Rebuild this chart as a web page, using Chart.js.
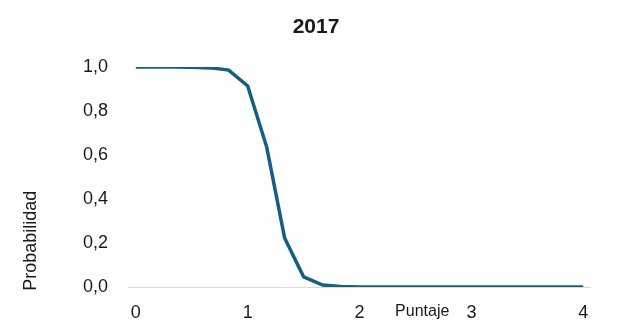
<!DOCTYPE html>
<html lang="es">
<head>
    <meta charset="UTF-8">
    <title>2017</title>
    <script src="https://cdn.jsdelivr.net/npm/chart.js"></script>
    <style>
        body {
            margin: 0;
            padding: 0;
            background: #ffffff;
        }
        .chart-box {
            width: 632px;
            height: 328px;
        }
    </style>
</head>
<body>
    <div class="chart-box">
        <canvas id="curva"></canvas>
    </div>
    <script>
        // datos
        const chartTitle = '2017';
        const xTitle = 'Puntaje';
        const yTitle = 'Probabilidad';
        const puntaje = [0, 0.17, 0.33, 0.5, 0.67, 0.83, 1, 1.17, 1.33, 1.5, 1.67, 1.83, 2,
            2.17, 2.33, 2.5, 2.67, 2.83, 3, 3.17, 3.33, 3.5, 3.67, 3.83, 4];
        const probabilidad = [1, 1, 1, 0.999, 0.996, 0.986, 0.914, 0.636, 0.223, 0.046, 0.009, 0.002, 0.0005,
            0, 0, 0, 0, 0, 0, 0, 0, 0, 0, 0, 0];
        const xTicks = [0, 1, 2, 3, 4];

        const fontFamily = "'Liberation Sans', Arial, sans-serif";
        const textColor = '#1a1a1a';

        // titulo y titulos de ejes en la misma posicion que el original
        const chartTexts = {
            id: 'chartTexts',
            afterDraw(chart) {
                const ctx = chart.ctx;
                const xs = chart.scales.x;
                const ys = chart.scales.y;
                ctx.save();
                ctx.fillStyle = textColor;
                ctx.textAlign = 'center';
                ctx.textBaseline = 'middle';
                ctx.font = 'bold 21px ' + fontFamily;
                ctx.fillText(chartTitle, 316, 27);
                ctx.font = '16px ' + fontFamily;
                ctx.fillText(xTitle, xs.getPixelForValue(2.56), 312);
                ctx.font = '18px ' + fontFamily;
                ctx.translate(31, ys.getPixelForValue(0.21));
                ctx.rotate(-Math.PI / 2);
                ctx.fillText(yTitle, 0, 0);
                ctx.restore();
            }
        };

        new Chart(document.getElementById('curva'), {
            type: 'line',
            data: {
                datasets: [{
                    data: puntaje.map((p, i) => ({ x: p, y: probabilidad[i] })),
                    borderColor: '#156082',
                    borderWidth: 3.5,
                    pointRadius: 0,
                    tension: 0,
                    fill: false
                }]
            },
            options: {
                responsive: true,
                maintainAspectRatio: false,
                animation: false,
                layout: {
                    padding: { left: 0, right: 42, top: 67, bottom: 0 }
                },
                plugins: {
                    legend: { display: false },
                    tooltip: { enabled: false },
                    title: { display: false }
                },
                scales: {
                    x: {
                        type: 'linear',
                        min: -0.07,
                        max: 4.06,
                        afterBuildTicks: (scale) => {
                            scale.ticks = xTicks.map(v => ({ value: v }));
                        },
                        afterFit: (scale) => { scale.height = 41; },
                        grid: { display: false, drawTicks: false },
                        border: { display: true, color: '#d9d9d9', width: 1 },
                        ticks: {
                            color: textColor,
                            padding: 15,
                            font: { family: fontFamily, size: 18 },
                            callback: (v) => String(v)
                        }
                    },
                    y: {
                        min: 0,
                        max: 1,
                        afterFit: (scale) => { scale.width = 128; },
                        grid: { display: false, drawTicks: false },
                        border: { display: false },
                        ticks: {
                            stepSize: 0.2,
                            color: textColor,
                            padding: 20,
                            font: { family: fontFamily, size: 18 },
                            callback: (v) => v.toFixed(1).replace('.', ',')
                        }
                    }
                }
            },
            plugins: [chartTexts]
        });
    </script>
</body>
</html>
